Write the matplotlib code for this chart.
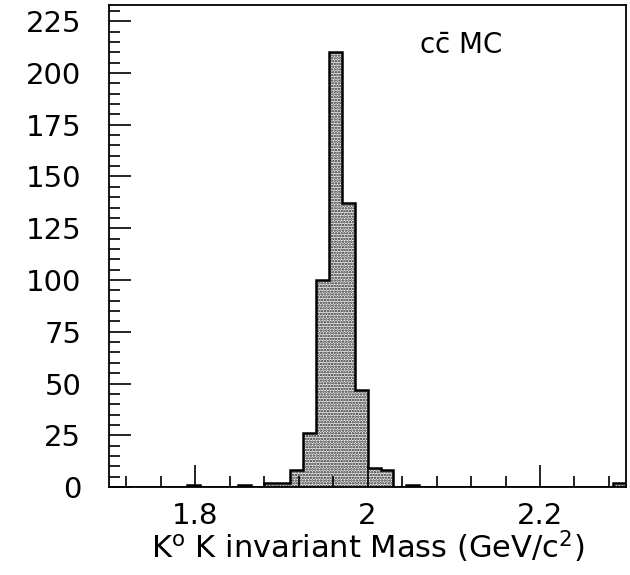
import numpy as np
import matplotlib.pyplot as plt
from matplotlib.ticker import MultipleLocator, FixedLocator

# K0 K invariant mass, c-cbar MC, 40 bins from 1.7 to 2.3 GeV
mass_lo = 1.7
mass_hi = 2.3
counts = [0, 0, 0, 0, 0, 0, 1, 0, 0, 0,
          1, 0, 2, 2, 8, 26, 100, 210, 137, 47,
          9, 8, 0, 1, 0, 0, 0, 0, 0, 0,
          0, 0, 0, 0, 0, 0, 0, 0, 0, 2]
xticks = [1.8, 2.0, 2.2]
xticklabels = ["1.8", "2", "2.2"]
yticks = [0, 25, 50, 75, 100, 125, 150, 175, 200, 225]

plt.rcParams['font.family'] = ['DejaVu Sans']
plt.rcParams['mathtext.fontset'] = 'dejavusans'
plt.rcParams['hatch.linewidth'] = 1.2

edges = np.linspace(mass_lo, mass_hi, len(counts) + 1)

fig = plt.figure(figsize=(6.3, 5.75), dpi=100)
ax = fig.add_axes([0.173, 0.153, 0.821, 0.839])

ax.stairs(counts, edges, fill=True, facecolor="#f0f0f0", edgecolor="#222222",
          hatch="......", linewidth=0)
ax.stairs(counts, edges, color="black", linewidth=1.8, baseline=None)

ax.set_xlim(mass_lo, mass_hi)
ax.set_ylim(0, 233)
ax.xaxis.set_major_locator(FixedLocator(xticks))
ax.set_xticklabels(xticklabels)
ax.xaxis.set_minor_locator(MultipleLocator(0.04))
ax.yaxis.set_major_locator(FixedLocator(yticks))
ax.yaxis.set_minor_locator(MultipleLocator(5))

ax.tick_params(which="both", direction="in", top=False, right=False,
               width=1.2, labelsize=21, colors="black")
ax.tick_params(which="major", length=16)
ax.tick_params(which="minor", length=8)
ax.tick_params(axis="y", pad=20)
ax.tick_params(axis="x", pad=11)
for s in ax.spines.values():
    s.set_linewidth(1.3)

ax.set_xlabel("K$^{\\rm o}$ K invariant Mass (GeV/c$^{2}$)", fontsize=22, labelpad=-1)
ax.text(0.60, 0.915, "c$\\bar{\\rm c}$ MC", transform=ax.transAxes, fontsize=20,
        ha="left", va="center")

fig.savefig("out.png", dpi=100)
